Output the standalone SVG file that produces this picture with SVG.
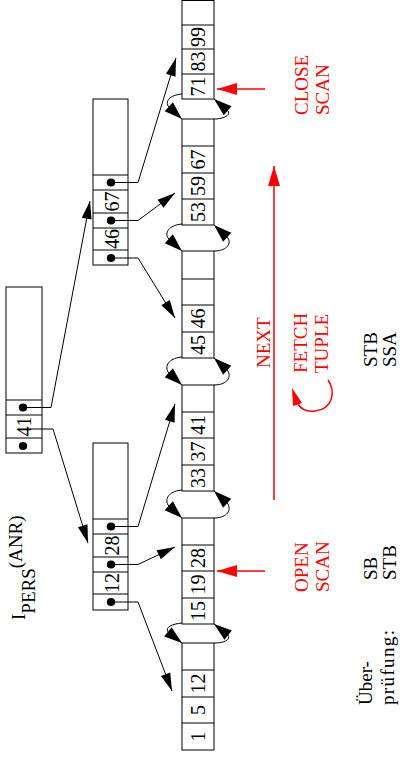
<svg xmlns="http://www.w3.org/2000/svg" width="400" height="760" viewBox="0 0 400 760">
<style>
.box{fill:none;stroke:#000;stroke-width:1}
.num{font-family:"Liberation Serif","Times New Roman",serif;font-size:20px;fill:#000;text-anchor:middle}
.lbl{font-family:"Liberation Serif","Times New Roman",serif;font-size:19px;fill:#000}
.red{fill:#f00}
.con{fill:none;stroke:#000;stroke-width:1}
.rcon{fill:none;stroke:#f00;stroke-width:1.5}
.dot{fill:#000}
</style>
<defs>
<marker id="ah" markerUnits="userSpaceOnUse" markerWidth="18" markerHeight="10" refX="18" refY="5" orient="auto" overflow="visible"><path d="M0,0 L18,5 L0,10 z" fill="#000"/></marker>
<marker id="lh" markerUnits="userSpaceOnUse" markerWidth="18" markerHeight="12" refX="18" refY="6" orient="auto" overflow="visible"><path d="M0,0 L18,6 L0,12 z" fill="#000"/></marker>
<marker id="rah" markerUnits="userSpaceOnUse" markerWidth="20" markerHeight="12" refX="20" refY="6" orient="auto" overflow="visible"><path d="M0,0 L20,6 L0,12 z" fill="#f00"/></marker>
</defs>

<!-- leaf pages -->
<g id="leaf1">
<rect class="box" x="182" y="0.5" width="32" height="98.5"/>
<path class="box" d="M182,25 H214 M182,49 H214 M182,74 H214"/>
<text class="num" transform="translate(205,37) rotate(-90)">99</text>
<text class="num" transform="translate(205,61.5) rotate(-90)">83</text>
<text class="num" transform="translate(205,86.5) rotate(-90)">71</text>
</g>
<g id="leaf2">
<rect class="box" x="182" y="119" width="32" height="106"/>
<path class="box" d="M182,146 H214 M182,173 H214 M182,199 H214"/>
<text class="num" transform="translate(205,159.5) rotate(-90)">67</text>
<text class="num" transform="translate(205,186) rotate(-90)">59</text>
<text class="num" transform="translate(205,212) rotate(-90)">53</text>
</g>
<g id="leaf3">
<rect class="box" x="182" y="251" width="32" height="107"/>
<path class="box" d="M182,279 H214 M182,305 H214 M182,332 H214"/>
<text class="num" transform="translate(205,318.5) rotate(-90)">46</text>
<text class="num" transform="translate(205,345) rotate(-90)">45</text>
</g>
<g id="leaf4">
<rect class="box" x="182" y="385" width="32" height="106"/>
<path class="box" d="M182,412 H214 M182,438 H214 M182,465 H214"/>
<text class="num" transform="translate(205,425) rotate(-90)">41</text>
<text class="num" transform="translate(205,451.5) rotate(-90)">37</text>
<text class="num" transform="translate(205,478) rotate(-90)">33</text>
</g>
<g id="leaf5">
<rect class="box" x="182" y="518" width="32" height="106"/>
<path class="box" d="M182,545 H214 M182,571 H214 M182,598 H214"/>
<text class="num" transform="translate(205,558) rotate(-90)">28</text>
<text class="num" transform="translate(205,584.5) rotate(-90)">19</text>
<text class="num" transform="translate(205,611) rotate(-90)">15</text>
</g>
<g id="leaf6">
<rect class="box" x="182" y="643" width="32" height="107"/>
<path class="box" d="M182,670 H214 M182,697 H214 M182,723 H214"/>
<text class="num" transform="translate(205,683.5) rotate(-90)">12</text>
<text class="num" transform="translate(205,710) rotate(-90)">5</text>
<text class="num" transform="translate(205,736.5) rotate(-90)">1</text>
</g>

<!-- index nodes -->
<g id="root">
<rect class="box" x="6" y="287" width="36" height="166"/>
<path class="box" d="M6,400 H42 M6,415 H42 M6,438 H42"/>
<ellipse class="dot" cx="23" cy="407.5" rx="4.2" ry="4"/>
<text class="num" transform="translate(30.5,426.5) rotate(-90)">41</text>
<ellipse class="dot" cx="23" cy="446" rx="4.2" ry="4"/>
</g>
<g id="inner2">
<rect class="box" x="93" y="99" width="35" height="166"/>
<path class="box" d="M93,175 H128 M93,190 H128 M93,213 H128 M93,228 H128 M93,250 H128"/>
<ellipse class="dot" cx="111" cy="182.5" rx="4.2" ry="4"/>
<text class="num" transform="translate(118.5,201.5) rotate(-90)">67</text>
<ellipse class="dot" cx="111" cy="220.5" rx="4.2" ry="4"/>
<text class="num" transform="translate(118.5,239) rotate(-90)">46</text>
<ellipse class="dot" cx="111" cy="258" rx="4.2" ry="4"/>
</g>
<g id="inner3">
<rect class="box" x="93" y="443" width="35" height="167"/>
<path class="box" d="M93,519 H128 M93,534 H128 M93,557 H128 M93,572 H128 M93,594 H128"/>
<ellipse class="dot" cx="111" cy="526.5" rx="4.2" ry="4"/>
<text class="num" transform="translate(118.5,545.5) rotate(-90)">28</text>
<ellipse class="dot" cx="111" cy="564.5" rx="4.2" ry="4"/>
<text class="num" transform="translate(118.5,583) rotate(-90)">12</text>
<ellipse class="dot" cx="111" cy="602" rx="4.2" ry="4"/>
</g>

<!-- connectors -->
<g id="connectors">
<path class="con" d="M23,407.5 H51 L90,201" marker-end="url(#ah)"/>
<path class="con" d="M30,429 H53 L88,543" marker-end="url(#ah)"/>
<path class="con" d="M111,182.5 H138 L176,58" marker-end="url(#ah)"/>
<path class="con" d="M111,220.5 H138 L175,193" marker-end="url(#ah)"/>
<path class="con" d="M111,258 H138 L175,318" marker-end="url(#ah)"/>
<path class="con" d="M111,526.5 H138 L175,404" marker-end="url(#ah)"/>
<path class="con" d="M111,564.5 H138 L175,547" marker-end="url(#ah)"/>
<path class="con" d="M111,602 H138 L172,691" marker-end="url(#ah)"/>
<!-- leaf chain links -->
<path class="con" d="M182,94 C172,95 165,99 168,106 L182,119" marker-end="url(#lh)"/>
<path class="con" d="M214,119 C224,119 231,115 228,111 L214,99" marker-end="url(#lh)"/>
<path class="con" d="M182,224 C171,225 164,231 168,238 L182,251" marker-end="url(#lh)"/>
<path class="con" d="M214,251 C225,251 232,245 228,238 L214,225" marker-end="url(#lh)"/>
<path class="con" d="M182,357 C171,358 164,364 168,372 L182,385" marker-end="url(#lh)"/>
<path class="con" d="M214,385 C225,385 232,379 228,371 L214,358" marker-end="url(#lh)"/>
<path class="con" d="M182,490 C171,491 164,497 168,505 L182,518" marker-end="url(#lh)"/>
<path class="con" d="M214,518 C225,518 232,512 228,504 L214,491" marker-end="url(#lh)"/>
<path class="con" d="M182,623 C172,624 165,627 168,632 L182,643" marker-end="url(#lh)"/>
<path class="con" d="M214,643 C224,643 231,640 228,635 L214,624" marker-end="url(#lh)"/>
<!-- red operations -->
<path class="rcon" d="M265,89 H217" marker-end="url(#rah)"/>
<path class="rcon" d="M265,571 H217" marker-end="url(#rah)"/>
<path class="rcon" d="M274,500 V166" marker-end="url(#rah)"/>
<path class="rcon" d="M328,380 C336,392 333,409 315,411 C307,412 301,409 298,404"/>
<polygon class="red" points="292,388 293,406 302,403"/>
</g>

<!-- labels -->
<g id="labels">
<text class="lbl red" transform="translate(308,115) rotate(-90)">CLOSE</text>
<text class="lbl red" transform="translate(329,115) rotate(-90)">SCAN</text>
<text class="lbl red" transform="translate(270,368) rotate(-90)">NEXT</text>
<text class="lbl red" transform="translate(307,373) rotate(-90)">FETCH</text>
<text class="lbl red" transform="translate(328,373) rotate(-90)">TUPLE</text>
<text class="lbl" transform="translate(377,367) rotate(-90)">STB</text>
<text class="lbl" transform="translate(396,367) rotate(-90)">SSA</text>
<text class="lbl red" transform="translate(308,592) rotate(-90)">OPEN</text>
<text class="lbl red" transform="translate(329,592) rotate(-90)">SCAN</text>
<text class="lbl" transform="translate(377,580) rotate(-90)">SB</text>
<text class="lbl" transform="translate(396,580) rotate(-90)">STB</text>
<text class="lbl" transform="translate(372,705) rotate(-90)">Über-</text>
<text class="lbl" transform="translate(394,705) rotate(-90)" textLength="75" lengthAdjust="spacing">prüfung:</text>
<text class="lbl" transform="translate(25,620) rotate(-90)">I<tspan dy="10">PERS</tspan><tspan dy="-13">(ANR)</tspan></text>
</g>
</svg>
